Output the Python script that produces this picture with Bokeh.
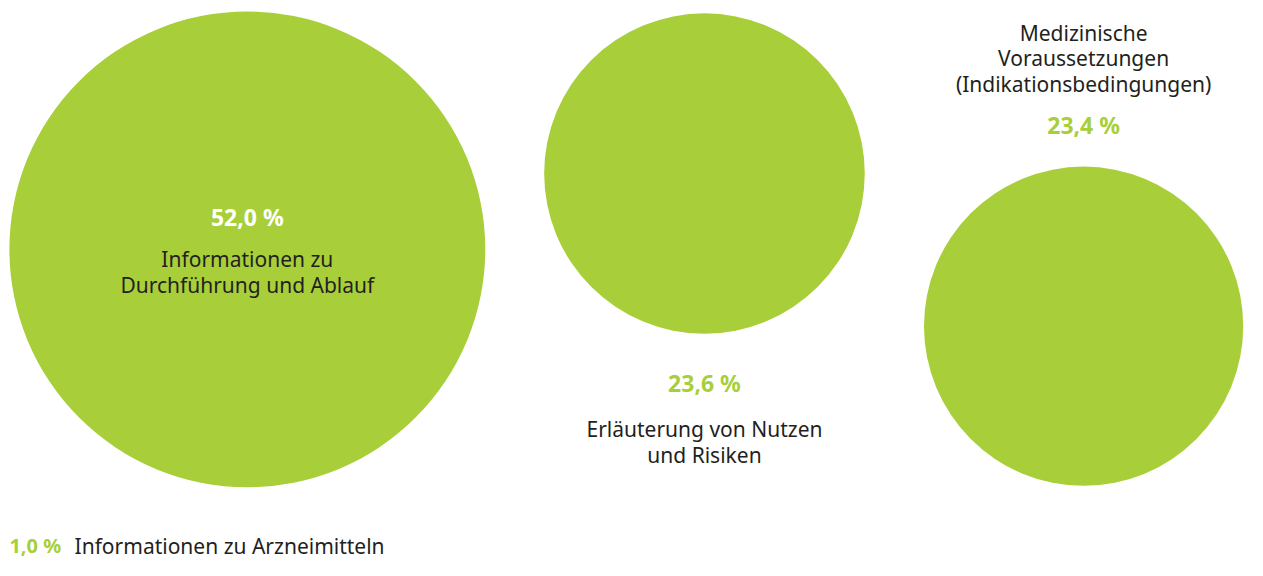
from bokeh.plotting import figure
from bokeh.models import Range1d, ColumnDataSource
from bokeh.embed import file_html
from bokeh.resources import INLINE
from bokeh.core.properties import value
import math

categories = ["Informationen zu\nDurchführung und Ablauf",
              "Erläuterung von Nutzen\nund Risiken",
              "Medizinische\nVoraussetzungen\n(Indikationsbedingungen)",
              "Informationen zu Arzneimitteln"]
values = [52.0, 23.6, 23.4, 1.0]
labels = ["52,0 %", "23,6 %", "23,4 %", "1,0 %"]

GREEN = "#a8cf3a"
DARK = "#231f20"
FONT = "Noto Sans"

p = figure(width=1247, height=560, output_backend="svg", toolbar_location=None,
           x_range=Range1d(0, 1263), y_range=Range1d(576, 0))
p.axis.visible = False
p.grid.visible = False
p.outline_line_color = None
p.background_fill_color = "white"
p.border_fill_color = "white"
p.min_border = 0

# layout (pixel centres of bubbles)
cx = [250, 713, 1097]
cy = [256, 178, 335]
k = 241 / math.sqrt(values[0])
rad = [k * math.sqrt(v) for v in values[:3]]

src = ColumnDataSource(dict(x=cx, y=cy, r=rad))
p.circle(x="x", y="y", radius="r", source=src, fill_color=GREEN, line_color=None,
         radius_dimension="x")

def txt(x, y, t, color, bold=False, size="21px", align="center"):
    p.text(x=[x], y=[y], text=[t], text_color=color, text_font=value(FONT),
           text_font_size=size, text_align=align, text_baseline="middle",
           text_font_style="bold" if bold else "normal")

LH = 26.5
# big bubble
txt(cx[0], 223, labels[0], "white", bold=True, size="23px")
for i, line in enumerate(categories[0].split("\n")):
    txt(cx[0], 266 + i * LH, line, DARK)

# middle
txt(cx[1], 393, labels[1], GREEN, bold=True, size="23px")
for i, line in enumerate(categories[1].split("\n")):
    txt(cx[1], 441 + i * LH, line, DARK)

# right
for i, line in enumerate(categories[2].split("\n")):
    txt(cx[2], 33 + i * LH, line, DARK)
txt(cx[2], 128, labels[2], GREEN, bold=True, size="23px")

# bottom small item
txt(9, 561, labels[3], GREEN, bold=True, size="20px", align="left")
txt(75, 561, categories[3], DARK, align="left")

open("out.html", "w").write(file_html(p, INLINE))
